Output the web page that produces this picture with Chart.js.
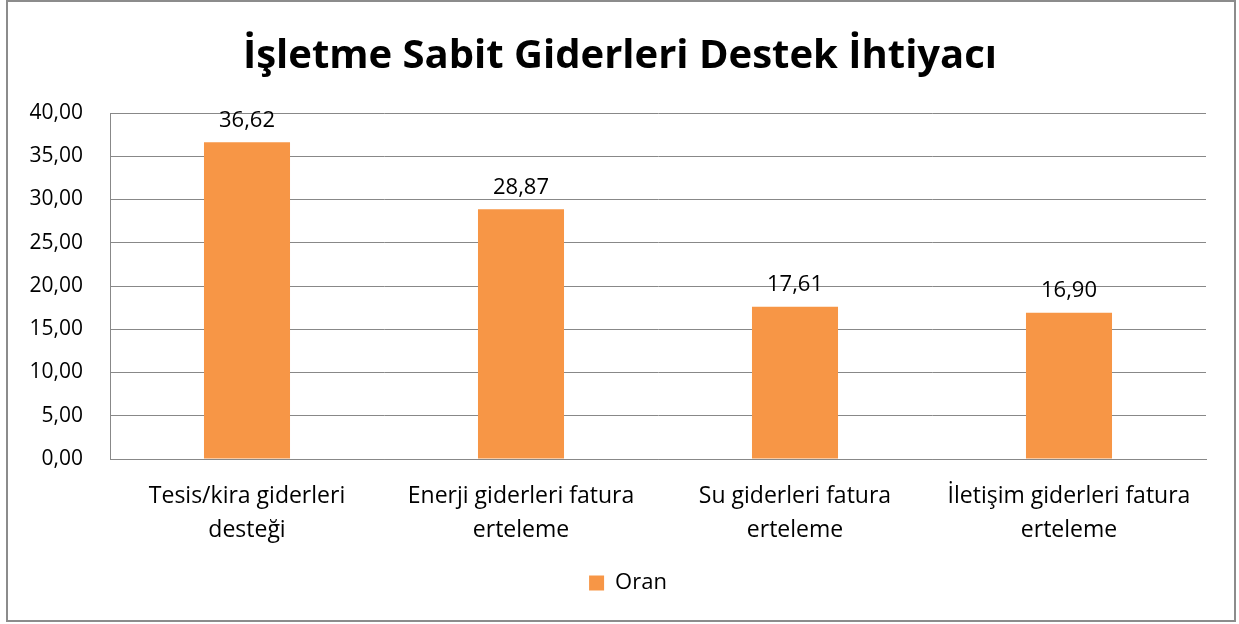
<!DOCTYPE html>
<html lang="tr">
<head>
<meta charset="UTF-8">
<title>İşletme Sabit Giderleri Destek İhtiyacı</title>
<script src="https://cdn.jsdelivr.net/npm/chart.js"></script>
<style>
  html, body { margin: 0; padding: 0; background: #fff; }
  #wrap { position: relative; width: 1239px; height: 624px; }
</style>
</head>
<body>
<div id="wrap"><canvas id="chart" width="1239" height="624"></canvas></div>
<script>
// veriler
var kategoriler = [
    ['Tesis/kira giderleri', 'desteği'],
    ['Enerji giderleri fatura', 'erteleme'],
    ['Su giderleri fatura', 'erteleme'],
    ['İletişim giderleri fatura', 'erteleme']
];
var oranlar = [36.62, 28.87, 17.61, 16.90];
var seriAdi = 'Oran';
var baslik = 'İşletme Sabit Giderleri Destek İhtiyacı';

var yazi = "'Open Sans', sans-serif";

function virgul(v) {
    return Number(v).toFixed(2).replace('.', ',');
}

// dış çerçeve
var cerceve = {
    id: 'cerceve',
    beforeDraw: function (chart) {
        var c = chart.ctx;
        c.save();
        c.fillStyle = '#fff';
        c.fillRect(0, 0, chart.width, chart.height);
        c.strokeStyle = '#8c8c8c';
        c.lineWidth = 2;
        c.strokeRect(7, 1, 1228, 620);
        c.restore();
    },
    // başlık ve lejant Excel'deki gibi biraz sağda
    afterLayout: function (chart) {
        var t = chart.titleBlock;
        if (t) {
            t.left += 17;
            t.right += 17;
        }
        if (chart.legend) {
            chart.legend.left += 25;
            chart.legend.right += 25;
        }
    }
};

// çubuk üstü değerler
var degerler = {
    id: 'degerler',
    afterDatasetsDraw: function (chart) {
        var c = chart.ctx;
        var meta = chart.getDatasetMeta(0);
        c.save();
        c.font = '22px ' + yazi;
        c.fillStyle = '#000';
        c.textAlign = 'center';
        c.textBaseline = 'bottom';
        meta.data.forEach(function (bar, i) {
            c.fillText(virgul(oranlar[i]), bar.x, bar.y - 11);
        });
        c.restore();
    }
};

var ctx = document.getElementById('chart').getContext('2d');
var chart = new Chart(ctx, {
    type: 'bar',
    data: {
        labels: kategoriler,
        datasets: [{
            label: seriAdi,
            data: oranlar,
            backgroundColor: '#F79646',
            borderWidth: 0,
            categoryPercentage: 1,
            barPercentage: 0.314
        }]
    },
    options: {
        responsive: false,
        animation: false,
        devicePixelRatio: 1,
        layout: { padding: { left: 0, right: 33, top: 0, bottom: 20 } },
        plugins: {
            title: {
                display: true,
                text: baslik,
                color: '#000',
                font: { family: yazi, size: 40, weight: 'bold', lineHeight: 1.2 },
                padding: { top: 33, bottom: 32 }
            },
            legend: {
                position: 'bottom',
                labels: {
                    color: '#000',
                    font: { family: yazi, size: 22 },
                    boxWidth: 15,
                    boxHeight: 15,
                    padding: 10
                }
            },
            tooltip: { enabled: false }
        },
        scales: {
            y: {
                min: 0,
                max: 40,
                afterFit: function (s) { s.width = 110; },
                ticks: {
                    stepSize: 5,
                    color: '#000',
                    padding: 27,
                    font: { family: yazi, size: 21 },
                    callback: function (v) { return virgul(v); }
                },
                grid: { color: '#888', drawTicks: false },
                border: { display: true, color: '#888' }
            },
            x: {
                afterFit: function (s) { s.height = 103; },
                ticks: {
                    color: '#000',
                    padding: 21,
                    maxRotation: 0,
                    autoSkip: false,
                    font: { family: yazi, size: 23, lineHeight: 1.45 }
                },
                grid: { display: false, drawTicks: false },
                border: { display: true, color: '#888' }
            }
        }
    },
    plugins: [cerceve, degerler]
});
</script>
</body>
</html>
